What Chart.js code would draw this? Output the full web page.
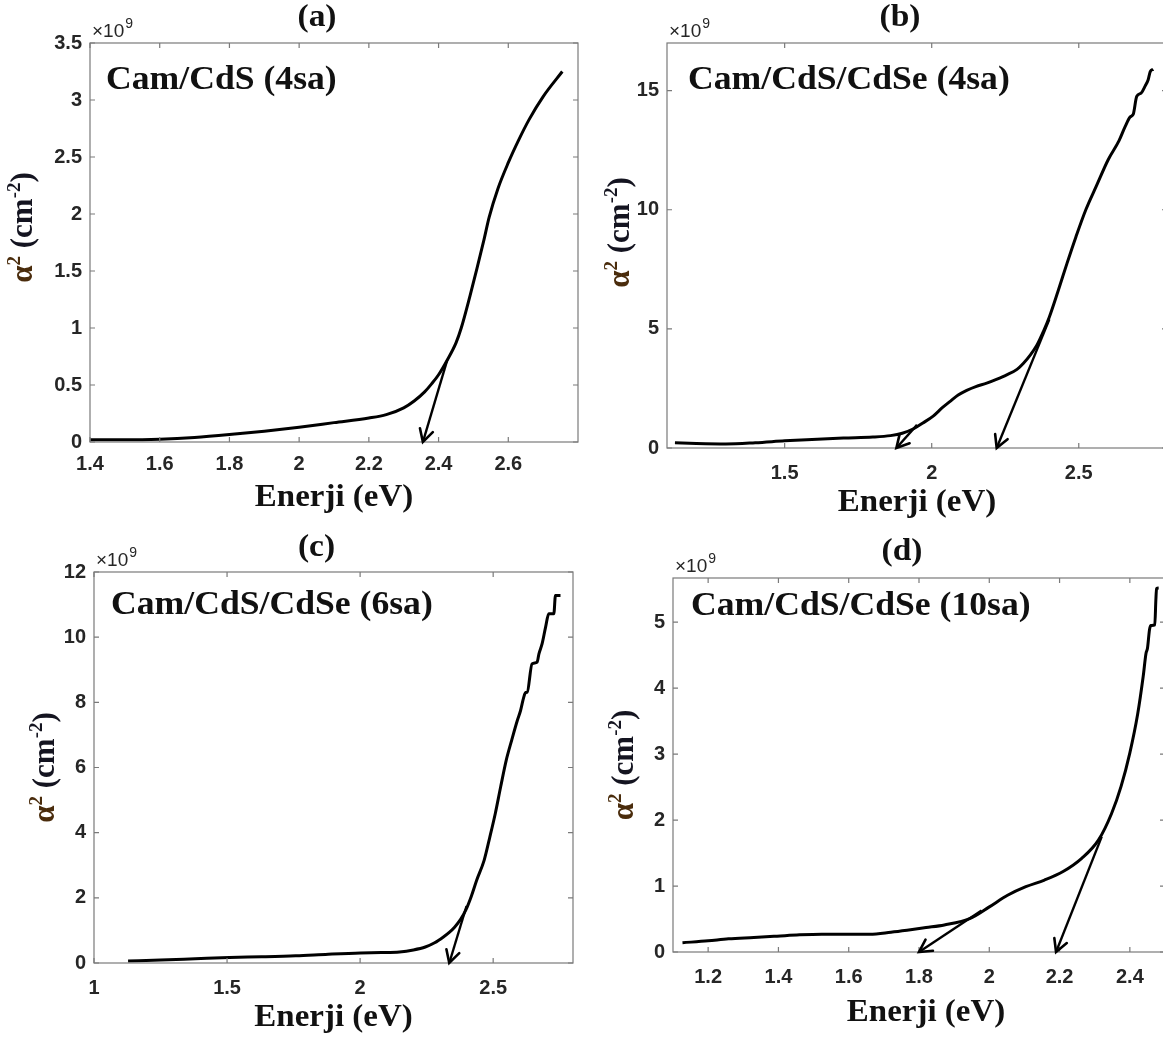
<!DOCTYPE html>
<html>
<head>
<meta charset="utf-8">
<script src="https://cdn.jsdelivr.net/npm/chart.js@4.4.0/dist/chart.umd.min.js"></script>
<style>
html, body { margin: 0; padding: 0; overflow: hidden; background: #fff; width: 1163px; height: 1052px; }
canvas { position: absolute; }
</style>
</head>
<body>
<canvas id="panelA" width="590" height="525" style="left:0px;top:0px"></canvas>
<canvas id="panelB" width="590" height="525" style="left:590px;top:0px"></canvas>
<canvas id="panelC" width="590" height="527" style="left:0px;top:525px"></canvas>
<canvas id="panelD" width="590" height="527" style="left:590px;top:525px"></canvas>
<script>
// ---- data (alpha^2 values in units of 1e9 cm^-2) ----
let energyA = [1.40, 1.50, 1.60, 1.70, 1.80, 1.90, 2.00, 2.10, 2.20, 2.25, 2.30, 2.33, 2.36, 2.38, 2.40, 2.425, 2.45, 2.465, 2.49, 2.51, 2.53, 2.545, 2.57, 2.60, 2.63, 2.66, 2.70, 2.755];
let alphaA = [0.02, 0.02, 0.025, 0.04, 0.065, 0.095, 0.13, 0.17, 0.21, 0.24, 0.30, 0.36, 0.44, 0.51, 0.59, 0.72, 0.87, 1.0, 1.28, 1.52, 1.77, 1.97, 2.22, 2.45, 2.65, 2.83, 3.03, 3.25];
let arrowsA = [{x: [2.425, 2.355], y: [0.72, 0]}];
let xTicksA = [1.4, 1.6, 1.8, 2.0, 2.2, 2.4, 2.6];
let yTicksA = [0, 0.5, 1, 1.5, 2, 2.5, 3, 3.5];

let energyB = [1.127, 1.20, 1.30, 1.40, 1.50, 1.575, 1.70, 1.80, 1.86, 1.90, 1.94, 1.97, 2.005, 2.035, 2.065, 2.09, 2.119, 2.15, 2.187, 2.22, 2.255, 2.29, 2.312, 2.335, 2.357, 2.38, 2.40, 2.43, 2.46, 2.49, 2.524, 2.56, 2.60, 2.637, 2.658, 2.675, 2.685, 2.697, 2.712, 2.726, 2.736, 2.743, 2.753];
let alphaB = [0.22, 0.19, 0.17, 0.22, 0.30, 0.35, 0.42, 0.46, 0.52, 0.62, 0.82, 1.05, 1.34, 1.68, 1.98, 2.22, 2.42, 2.58, 2.72, 2.88, 3.07, 3.3, 3.56, 3.9, 4.3, 4.9, 5.5, 6.6, 7.75, 8.85, 10.0, 11.0, 12.1, 12.9, 13.5, 13.9, 14.0, 14.76, 14.9, 15.2, 15.46, 15.8, 15.9];
let arrowsB = [{x: [1.95, 1.88], y: [0.97, 0]}, {x: [2.40, 2.221], y: [5.4, 0]}];
let xTicksB = [1.5, 2, 2.5];
let yTicksB = [0, 5, 10, 15];

let energyC = [1.128, 1.25, 1.38, 1.509, 1.63, 1.758, 1.88, 2.001, 2.08, 2.148, 2.2, 2.245, 2.28, 2.313, 2.335, 2.355, 2.377, 2.397, 2.418, 2.438, 2.466, 2.487, 2.508, 2.528, 2.549, 2.57, 2.591, 2.603, 2.615, 2.622, 2.628, 2.646, 2.665, 2.672, 2.684, 2.697, 2.709, 2.728, 2.734, 2.753];
let alphaC = [0.06, 0.09, 0.13, 0.17, 0.19, 0.22, 0.27, 0.31, 0.32, 0.34, 0.40, 0.49, 0.62, 0.80, 0.94, 1.10, 1.33, 1.62, 2.05, 2.54, 3.15, 3.85, 4.59, 5.4, 6.22, 6.85, 7.45, 7.75, 8.16, 8.3, 8.31, 9.18, 9.23, 9.49, 9.80, 10.31, 10.72, 10.72, 11.28, 11.28];
let arrowsC = [{x: [2.40, 2.335], y: [1.75, 0]}];
let xTicksC = [1, 1.5, 2, 2.5];
let yTicksC = [0, 2, 4, 6, 8, 10, 12];

let energyD = [1.127, 1.20, 1.258, 1.33, 1.396, 1.46, 1.523, 1.60, 1.66, 1.72, 1.766, 1.82, 1.872, 1.946, 1.999, 2.052, 2.104, 2.157, 2.21, 2.263, 2.311, 2.348, 2.375, 2.40, 2.422, 2.438, 2.446, 2.45, 2.456, 2.46, 2.471, 2.474, 2.476, 2.482];
let alphaD = [0.14, 0.17, 0.20, 0.22, 0.24, 0.26, 0.27, 0.27, 0.27, 0.30, 0.33, 0.37, 0.41, 0.51, 0.68, 0.86, 0.99, 1.09, 1.22, 1.42, 1.70, 2.10, 2.51, 3.02, 3.6, 4.18, 4.53, 4.6, 4.89, 4.95, 4.96, 5.34, 5.51, 5.52];
let arrowsD = [{x: [1.978, 1.80], y: [0.63, 0]}, {x: [2.32, 2.19], y: [1.75, 0]}];
let xTicksD = [1.2, 1.4, 1.6, 1.8, 2.0, 2.2, 2.4];
let yTicksD = [0, 1, 2, 3, 4, 5];

// ---- fonts / colours ----
const serif = '"Liberation Serif", "Times New Roman", serif';
const sans = '"Liberation Sans", Arial, sans-serif';
const tickColor = '#262626';
const frameColor = '#7a7a7a';

function pts(xs, ys) {
    return xs.map((x, i) => ({x: x, y: ys[i]}));
}

function stretchText(ctx, text, x, y, sx) {
    ctx.save();
    ctx.translate(x, y);
    ctx.scale(sx, 1);
    ctx.fillText(text, 0, 0);
    ctx.restore();
}

// frame with inward ticks on all four sides (MATLAB "box on")
const framePlugin = {
    id: 'frame',
    afterDatasetsDraw(chart) {
        let ctx = chart.ctx, a = chart.chartArea;
        let xs = chart.scales.x, ys = chart.scales.y;
        ctx.save();
        ctx.strokeStyle = frameColor;
        ctx.lineWidth = 1.2;
        ctx.strokeRect(a.left, a.top, a.right - a.left, a.bottom - a.top);
        ctx.beginPath();
        xs.ticks.forEach(t => {
            let px = xs.getPixelForValue(t.value);
            ctx.moveTo(px, a.bottom); ctx.lineTo(px, a.bottom - 5);
            ctx.moveTo(px, a.top); ctx.lineTo(px, a.top + 5);
        });
        ys.ticks.forEach(t => {
            let py = ys.getPixelForValue(t.value);
            ctx.moveTo(a.left, py); ctx.lineTo(a.left + 5, py);
            ctx.moveTo(a.right, py); ctx.lineTo(a.right - 5, py);
        });
        ctx.stroke();
        ctx.restore();
    }
};

// arrow heads at the end of the tangent lines
const arrowPlugin = {
    id: 'arrows',
    afterDatasetsDraw(chart) {
        let ctx = chart.ctx;
        chart.data.datasets.forEach((ds, i) => {
            if (!ds.arrow) return;
            let pts = chart.getDatasetMeta(i).data;
            let p0 = pts[pts.length - 2], p1 = pts[pts.length - 1];
            let ang = Math.atan2(p1.y - p0.y, p1.x - p0.x);
            let len = 14, spread = 0.5;
            ctx.save();
            ctx.strokeStyle = '#000';
            ctx.lineWidth = 2.6;
            ctx.lineCap = 'round';
            ctx.lineJoin = 'miter';
            ctx.beginPath();
            ctx.moveTo(p1.x - len * Math.cos(ang - spread), p1.y - len * Math.sin(ang - spread));
            ctx.lineTo(p1.x, p1.y);
            ctx.lineTo(p1.x - len * Math.cos(ang + spread), p1.y - len * Math.sin(ang + spread));
            ctx.stroke();
            ctx.restore();
        });
    }
};

// panel letter, sample name, axis titles and x10^9 multiplier
const textPlugin = {
    id: 'panelText',
    afterDraw(chart, args, opts) {
        let ctx = chart.ctx, a = chart.chartArea;
        let cx = (a.left + a.right) / 2, cy = (a.top + a.bottom) / 2;
        ctx.save();
        ctx.textBaseline = 'middle';

        // panel letter
        ctx.fillStyle = '#111';
        ctx.font = 'bold 31px ' + serif;
        ctx.textAlign = 'center';
        stretchText(ctx, opts.letter, cx - 17, a.top - opts.letterDy, 1.08);

        // sample name inside the axes
        ctx.textAlign = 'left';
        ctx.font = 'bold 33px ' + serif;
        stretchText(ctx, opts.note, a.left + opts.noteDx, a.top + opts.noteDy, 1.08);

        // x axis title
        ctx.textAlign = 'center';
        ctx.font = 'bold 32px ' + serif;
        stretchText(ctx, 'Enerji (eV)', cx + (opts.xTitleDx || 0), a.bottom + opts.xTitleDy, 1.03);

        // x10^9
        ctx.textAlign = 'left';
        ctx.textBaseline = 'alphabetic';
        ctx.fillStyle = tickColor;
        ctx.font = '19px ' + sans;
        ctx.fillText('\u00d710', a.left + 2, a.top - 6);
        let w = ctx.measureText('\u00d710').width;
        ctx.font = '14px ' + sans;
        ctx.fillText('9', a.left + 3 + w, a.top - 15);

        // y axis title, rotated
        ctx.translate(a.left - opts.yTitleDx, cy + opts.yTitleDy);
        ctx.rotate(-Math.PI / 2);
        let parts = [
            {t: '\u03b1', f: 'bold 31px ' + serif, dy: 0, c: '#4a2c0c'},
            {t: '2', f: 'bold 19px ' + serif, dy: -12, c: '#4a2c0c'},
            {t: ' (cm', f: 'bold 31px ' + serif, dy: 0, c: '#141420'},
            {t: '-2', f: 'bold 19px ' + serif, dy: -12, c: '#141420'},
            {t: ')', f: 'bold 31px ' + serif, dy: 0, c: '#141420'}
        ];
        let total = 0;
        parts.forEach(p => { ctx.font = p.f; p.w = ctx.measureText(p.t).width; total += p.w; });
        let x = -total / 2;
        parts.forEach(p => {
            ctx.font = p.f;
            ctx.fillStyle = p.c;
            ctx.fillText(p.t, x, 10 + p.dy);
            x += p.w;
        });
        ctx.restore();
    }
};

function tickLabel(v) {
    return String(Math.round(v * 100) / 100);
}

function buildChart(canvasId, p) {
    let datasets = [{
        data: pts(p.energy, p.alpha),
        borderColor: '#000',
        borderWidth: 3,
        pointRadius: 0,
        cubicInterpolationMode: 'monotone',
        fill: false
    }];
    p.arrows.forEach(ar => datasets.push({
        data: pts(ar.x, ar.y),
        borderColor: '#000',
        borderWidth: 2.4,
        pointRadius: 0,
        tension: 0,
        fill: false,
        arrow: true
    }));
    let box = p.box;
    return new Chart(document.getElementById(canvasId), {
        type: 'line',
        data: {datasets: datasets},
        options: {
            responsive: false,
            animation: false,
            devicePixelRatio: 1,
            events: [],
            layout: {
                padding: {left: 0, bottom: 0, top: box.T - box.top, right: box.left + box.w - box.R}
            },
            plugins: {
                legend: {display: false},
                tooltip: {enabled: false},
                panelText: p.text
            },
            scales: {
                x: {
                    type: 'linear',
                    min: p.xRange[0],
                    max: p.xRange[1],
                    afterBuildTicks: s => { s.ticks = p.xTicks.map(v => ({value: v})); },
                    afterFit: s => { s.height = box.top + box.h - box.B; },
                    grid: {display: false, drawTicks: false},
                    border: {display: false},
                    ticks: {
                        autoSkip: false, maxRotation: 0, padding: p.xTickPad,
                        color: tickColor, font: {family: sans, size: 20, weight: 'bold'},
                        callback: tickLabel
                    }
                },
                y: {
                    type: 'linear',
                    min: p.yRange[0],
                    max: p.yRange[1],
                    afterBuildTicks: s => { s.ticks = p.yTicks.map(v => ({value: v})); },
                    afterFit: s => { s.width = box.L - box.left; },
                    grid: {display: false, drawTicks: false},
                    border: {display: false},
                    ticks: {
                        autoSkip: false, padding: 8,
                        color: tickColor, font: {family: sans, size: 20, weight: 'bold'},
                        callback: tickLabel
                    }
                }
            }
        },
        plugins: [framePlugin, arrowPlugin, textPlugin]
    });
}

buildChart('panelA', {
    energy: energyA, alpha: alphaA, arrows: arrowsA, xTicks: xTicksA, yTicks: yTicksA,
    xRange: [1.4, 2.8], yRange: [0, 3.5], xTickPad: 10,
    box: {left: 0, top: 0, w: 590, h: 525, L: 90, T: 43, R: 578, B: 442},
    text: {letter: '(a)', letterDy: 25, note: 'Cam/CdS (4sa)', noteDx: 16, noteDy: 37, xTitleDy: 56, yTitleDx: 68, yTitleDy: -15}
});
buildChart('panelB', {
    energy: energyB, alpha: alphaB, arrows: arrowsB, xTicks: xTicksB, yTicks: yTicksB,
    xRange: [1.1, 2.8], yRange: [0, 17], xTickPad: 13,
    box: {left: 590, top: 0, w: 590, h: 525, L: 667, T: 43, R: 1167, B: 448},
    text: {letter: '(b)', letterDy: 25, note: 'Cam/CdS/CdSe (4sa)', noteDx: 21, noteDy: 37, xTitleDy: 55, yTitleDx: 48, yTitleDy: -13}
});
buildChart('panelC', {
    energy: energyC, alpha: alphaC, arrows: arrowsC, xTicks: xTicksC, yTicks: yTicksC,
    xRange: [1, 2.8], yRange: [0, 12], xTickPad: 13,
    box: {left: 0, top: 525, w: 590, h: 527, L: 94, T: 572, R: 573, B: 963},
    text: {letter: '(c)', letterDy: 24, note: 'Cam/CdS/CdSe (6sa)', noteDx: 17, noteDy: 33, xTitleDy: 55, yTitleDx: 50, yTitleDy: 0}
});
buildChart('panelD', {
    energy: energyD, alpha: alphaD, arrows: arrowsD, xTicks: xTicksD, yTicks: yTicksD,
    xRange: [1.1, 2.5], yRange: [0, 5.67], xTickPad: 13,
    box: {left: 590, top: 525, w: 590, h: 527, L: 673, T: 578, R: 1165, B: 952},
    text: {letter: '(d)', letterDy: 26, note: 'Cam/CdS/CdSe (10sa)', noteDx: 18, noteDy: 28, xTitleDx: 7, xTitleDy: 61, yTitleDx: 50, yTitleDy: 0}
});
</script>
</body>
</html>
